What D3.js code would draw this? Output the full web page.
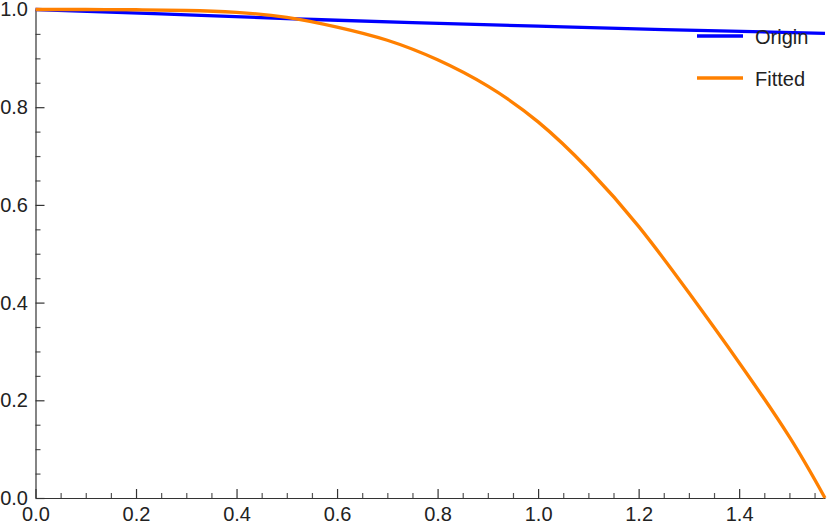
<!DOCTYPE html>
<html>
<head>
<meta charset="utf-8">
<script src="https://cdn.jsdelivr.net/npm/d3@7"></script>
<style>
    html, body { margin: 0; padding: 0; background: #fff; }
    svg { display: block; font-family: "Liberation Sans", Arial, sans-serif; }
    .axes path, .axes line { stroke: #333; stroke-width: 1.2; }
    .axes text { fill: #222; font-size: 20px; font-family: "Liberation Sans", Arial, sans-serif; }
    .minor line { stroke: #555; }
    .line { fill: none; stroke-width: 3.3; }
    .legend text { fill: #222; font-size: 20px; }
</style>
</head>
<body>
<script>
(function () {

    'use strict'

    // values
    const originX = [0, 0.25, 0.5, 0.75, 1.0, 1.25, 1.5708]
    const originY = [1.0, 0.991, 0.9815, 0.973, 0.966, 0.959, 0.951]

    const fittedX = [0, 0.1, 0.2, 0.3, 0.4, 0.5, 0.6, 0.7, 0.8, 0.9, 1.0, 1.1, 1.2, 1.3, 1.4, 1.5, 1.5708]
    const fittedY = [1.0, 1.0, 0.9995, 0.998, 0.994, 0.984, 0.964, 0.937, 0.897, 0.843, 0.770, 0.673, 0.556, 0.420, 0.277, 0.125, 0.0]

    const xTicks = [0, 0.2, 0.4, 0.6, 0.8, 1.0, 1.2, 1.4]
    const yTicks = [0, 0.2, 0.4, 0.6, 0.8, 1.0]
    const xMinor = d3.range(0, 1.57, 0.05).filter(v => Math.abs(v / 0.2 - Math.round(v / 0.2)) > 1e-6)
    const yMinor = d3.range(0, 1.0, 0.05).filter(v => Math.abs(v / 0.2 - Math.round(v / 0.2)) > 1e-6)

    const seriesNames = ['Origin', 'Fitted']
    const seriesColors = ['#0000ff', '#ff8000']

    const width = 830
        , height = 527

    const svg = d3.select('body')
        .append('svg')
        .attr('width', width)
        .attr('height', height)

    const xScale = d3.scaleLinear()
        .domain([0, 1.5708])
        .range([35.5, 825])

    const yScale = d3.scaleLinear()
        .domain([0, 1])
        .range([498, 9.5])

    // minor ticks first so the major ones sit on top
    svg.append('g')
        .attr('class', 'axes minor')
        .attr('transform', 'translate(0,' + yScale(0) + ')')
        .call(d3.axisBottom(xScale).tickValues(xMinor).tickSize(-5).tickFormat(''))
        .call(g => g.select('.domain').remove())

    svg.append('g')
        .attr('class', 'axes minor')
        .attr('transform', 'translate(' + xScale(0) + ',0)')
        .call(d3.axisLeft(yScale).tickValues(yMinor).tickSize(-5).tickFormat(''))
        .call(g => g.select('.domain').remove())

    // x axis
    svg.append('g')
        .attr('class', 'axes')
        .attr('transform', 'translate(0,' + yScale(0) + ')')
        .call(d3.axisBottom(xScale)
            .tickValues(xTicks)
            .tickSizeInner(-9)
            .tickSizeOuter(0)
            .tickPadding(8.3)
            .tickFormat(d3.format('.1f')))

    // y axis
    svg.append('g')
        .attr('class', 'axes')
        .attr('transform', 'translate(' + xScale(0) + ',0)')
        .call(d3.axisLeft(yScale)
            .tickValues(yTicks)
            .tickSizeInner(-9)
            .tickSizeOuter(0)
            .tickPadding(7.5)
            .tickFormat(d3.format('.1f')))

    const line = d3.line()
        .x(d => xScale(d.x))
        .y(d => yScale(d.y))
        .curve(d3.curveNatural)

    const series = [
        originX.map((x, i) => ({ x: x, y: originY[i] })),
        fittedX.map((x, i) => ({ x: x, y: fittedY[i] }))
    ]

    series.forEach((s, i) => {
        svg.append('path')
            .datum(s)
            .attr('class', 'line')
            .attr('stroke', seriesColors[i])
            .attr('d', line)
    })

    // legend
    const legend = svg.append('g')
        .attr('class', 'legend')
        .attr('transform', 'translate(697,36)')

    seriesNames.forEach((name, i) => {
        legend.append('line')
            .attr('x1', 0)
            .attr('x2', 46)
            .attr('y1', i * 42)
            .attr('y2', i * 42)
            .attr('stroke', seriesColors[i])
            .attr('stroke-width', 3.3)

        legend.append('text')
            .attr('x', 58)
            .attr('y', i * 42 + 7.5)
            .text(name)
    })
})()
</script>
</body>
</html>
